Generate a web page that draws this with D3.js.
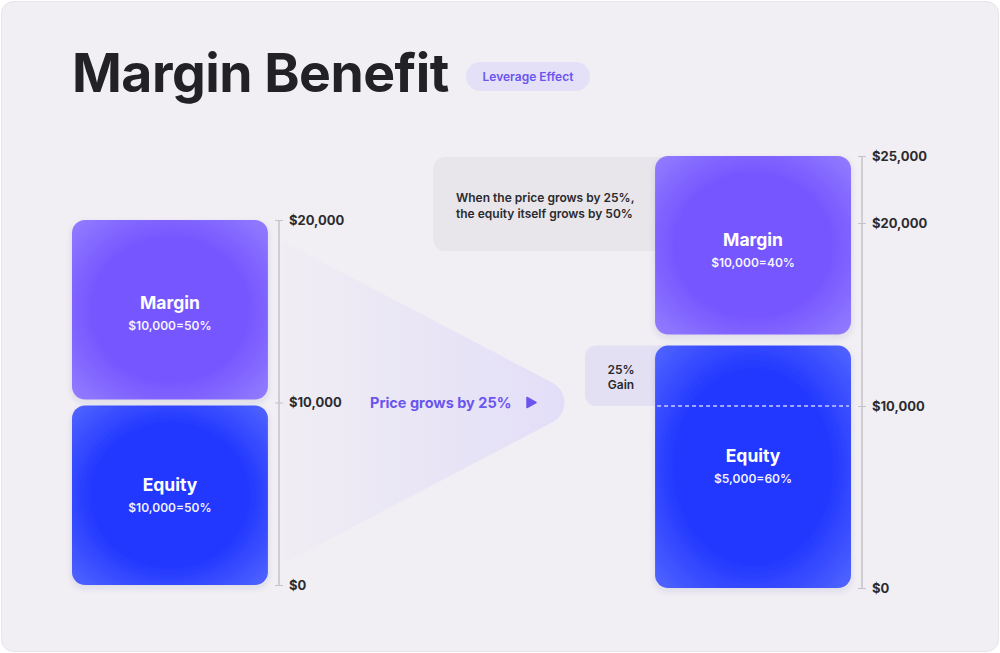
<!DOCTYPE html>
<html>
<head>
<meta charset="utf-8">
<script src="https://cdn.jsdelivr.net/npm/d3@7"></script>
<style>
  html, body { margin: 0; padding: 0; background: #ffffff; }
  svg { display: block; font-family: Inter, "Noto Sans", sans-serif; }
</style>
</head>
<body>
<div id="chart"></div>
<script>
// values
var panels = ["Before", "After"];
var segNames = ["Equity", "Margin"];
var leftValues = [10000, 10000];
var leftLabels = ["$10,000=50%", "$10,000=50%"];
var rightValues = [13600, 11400];
var rightLabels = ["$5,000=60%", "$10,000=40%"];
var leftTicks = [0, 10000, 20000];
var rightTicks = [0, 10000, 20000, 25000];
var gainFrom = 10000; // old equity line
var calloutLines = ["When the price grows by 25%,", "the equity itself grows by 50%"];
var gainLines = ["25%", "Gain"];

var width = 1000, height = 653;
var purple = "#7656ff", purpleEdge = "#9580ff";
var blue = "#2238ff", blueEdge = "#5568ff";

var svg = d3.select("#chart").append("svg")
    .attr("width", width)
    .attr("height", height);

var defs = svg.append("defs");

function radial(id, inner, outer) {
    var g = defs.append("radialGradient").attr("id", id)
        .attr("cx", "50%").attr("cy", "50%").attr("r", "72%");
    g.append("stop").attr("offset", "0%").attr("stop-color", inner);
    g.append("stop").attr("offset", "55%").attr("stop-color", inner);
    g.append("stop").attr("offset", "100%").attr("stop-color", outer);
}
radial("gradMargin", purple, purpleEdge);
radial("gradEquity", blue, blueEdge);

var arrowGrad = defs.append("linearGradient").attr("id", "gradArrow")
    .attr("x1", "0%").attr("x2", "100%").attr("y1", "0%").attr("y2", "0%");
arrowGrad.append("stop").attr("offset", "0%").attr("stop-color", "#e3def8").attr("stop-opacity", 0.1);
arrowGrad.append("stop").attr("offset", "100%").attr("stop-color", "#e3def8").attr("stop-opacity", 1);

var shadow = defs.append("filter").attr("id", "shadow")
    .attr("x", "-10%").attr("y", "-10%").attr("width", "120%").attr("height", "125%");
shadow.append("feDropShadow")
    .attr("dx", 0).attr("dy", 3).attr("stdDeviation", 3)
    .attr("flood-color", "#3a2d80").attr("flood-opacity", 0.12);

// card
svg.append("rect")
    .attr("x", 1.5).attr("y", 1.5)
    .attr("width", width - 3).attr("height", height - 3)
    .attr("rx", 12)
    .attr("fill", "#f1eff3")
    .attr("stroke", "#e6e4e8");

// title + pill
svg.append("text")
    .attr("x", 72).attr("y", 92)
    .attr("fill", "#222226")
    .attr("font-size", "53.5px")
    .attr("font-weight", 700)
    .style("letter-spacing", "-0.5px")
    .text("Margin Benefit");

svg.append("rect")
    .attr("x", 466).attr("y", 62)
    .attr("width", 124).attr("height", 29)
    .attr("rx", 14.5)
    .attr("fill", "#e4e0f8");

svg.append("text")
    .attr("x", 528).attr("y", 76.5)
    .attr("text-anchor", "middle")
    .attr("dominant-baseline", "central")
    .attr("fill", "#6a55ee")
    .attr("font-size", "12px")
    .attr("font-weight", 600)
    .text("Leverage Effect");

// scales
var x = d3.scaleBand()
    .domain(panels)
    .range([72, 851])
    .paddingInner(0.664)
    .paddingOuter(0);

var yL = d3.scaleLinear()
    .domain([0, 20000])
    .range([585, 220]);

// the picture's right axis is not evenly spaced at the top
var yR = d3.scaleLinear()
    .domain([0, 10000, 20000, 25000])
    .range([588, 406, 223, 156]);

// arrow between the two stacks, with a rounded tip
var tipY = yL(10000);
var baseX = 283, apexX = 590, r = 22, halfH = 161;
var theta = Math.atan2(halfH, apexX - baseX);
var cx = apexX - r / Math.sin(theta);
var tx = cx + r * Math.sin(theta), ty = r * Math.cos(theta);
var arrowPath = d3.path();
arrowPath.moveTo(baseX, tipY - halfH);
arrowPath.lineTo(tx, tipY - ty);
arrowPath.arc(cx, tipY, r, -Math.PI / 2 + theta, Math.PI / 2 - theta);
arrowPath.lineTo(baseX, tipY + halfH);
arrowPath.closePath();

svg.append("path")
    .attr("d", arrowPath.toString())
    .attr("fill", "url(#gradArrow)");

svg.append("text")
    .attr("x", 370).attr("y", tipY)
    .attr("dominant-baseline", "central")
    .attr("fill", "#6a55ee")
    .attr("font-size", "14.5px")
    .attr("font-weight", 700)
    .text("Price grows by 25%");

svg.append("path")
    .attr("d", "M527," + (tipY - 5) + " L536," + tipY + " L527," + (tipY + 5) + " Z")
    .attr("fill", "#6a55ee")
    .attr("stroke", "#6a55ee")
    .attr("stroke-linejoin", "round")
    .attr("stroke-width", 1.5);

// callout box (behind right margin bar)
var bx = x("After");
svg.append("rect")
    .attr("x", 433).attr("y", yR(25000) + 1)
    .attr("width", bx + 20 - 433).attr("height", 94)
    .attr("rx", 12)
    .attr("fill", "#e8e6ea");

svg.selectAll(".callout")
    .data(calloutLines)
    .enter().append("text")
    .attr("class", "callout")
    .attr("x", 456)
    .attr("y", function(d, i) { return 197 + i * 16.5; })
    .attr("dominant-baseline", "central")
    .attr("fill", "#2a2a2e")
    .attr("font-size", "12px")
    .attr("font-weight", 600)
    .text(function(d) { return d; });

// gain box (behind right equity bar)
var gainTop = yR(rightValues[0]) + 5.5;
svg.append("rect")
    .attr("x", 585).attr("y", gainTop)
    .attr("width", bx + 20 - 585).attr("height", yR(gainFrom) - gainTop)
    .attr("rx", 11)
    .attr("fill", "#e3e0f4");

svg.selectAll(".gain")
    .data(gainLines)
    .enter().append("text")
    .attr("class", "gain")
    .attr("x", 621)
    .attr("y", function(d, i) { return 369 + i * 15; })
    .attr("text-anchor", "middle")
    .attr("dominant-baseline", "central")
    .attr("fill", "#2a2a2e")
    .attr("font-size", "12px")
    .attr("font-weight", 600)
    .text(function(d) { return d; });

// stacks
function stack(values, labels, panel, y, half) {
    var rows = [], acc = 0;
    values.forEach(function(v, i) {
        rows.push({ name: segNames[i], label: labels[i], y0: acc, y1: acc + v });
        acc += v;
    });
    var total = acc;

    var g = svg.append("g");
    var seg = g.selectAll("g")
        .data(rows)
        .enter().append("g");

    seg.append("rect")
        .attr("x", x(panel))
        .attr("width", x.bandwidth())
        .attr("y", function(d) { return y(d.y1) + (d.y1 < total ? half : 0); })
        .attr("height", function(d) {
            var top = y(d.y1) + (d.y1 < total ? half : 0);
            var bot = y(d.y0) - (d.y0 > 0 ? half : 0);
            return bot - top;
        })
        .attr("rx", 13)
        .attr("fill", function(d) { return d.name == "Margin" ? "url(#gradMargin)" : "url(#gradEquity)"; })
        .attr("filter", "url(#shadow)");

    seg.append("text")
        .attr("x", x(panel) + x.bandwidth() / 2)
        .attr("y", function(d) { return (y(d.y0) + y(d.y1)) / 2 - 9; })
        .attr("text-anchor", "middle")
        .attr("dominant-baseline", "central")
        .attr("fill", "#ffffff")
        .attr("font-size", "17.5px")
        .attr("font-weight", 700)
        .text(function(d) { return d.name; });

    seg.append("text")
        .attr("x", x(panel) + x.bandwidth() / 2)
        .attr("y", function(d) { return (y(d.y0) + y(d.y1)) / 2 + 14; })
        .attr("text-anchor", "middle")
        .attr("dominant-baseline", "central")
        .attr("fill", "#ffffff")
        .attr("fill-opacity", 0.95)
        .attr("font-size", "12px")
        .attr("font-weight", 600)
        .text(function(d) { return d.label; });
    return g;
}

stack(leftValues, leftLabels, "Before", yL, 3);
stack(rightValues, rightLabels, "After", yR, 5.5);

// dashed line at the old equity level
svg.append("line")
    .attr("x1", bx + 2).attr("x2", bx + x.bandwidth() - 2)
    .attr("y1", yR(gainFrom)).attr("y2", yR(gainFrom))
    .attr("stroke", "#c9ccff")
    .attr("stroke-width", 1.5)
    .attr("stroke-dasharray", "4,3");

// axes
function axis(y, ticks, lineX) {
    svg.append("line")
        .attr("x1", lineX).attr("x2", lineX)
        .attr("y1", y(d3.max(ticks))).attr("y2", y(0))
        .attr("stroke", "#c4c2c8")
        .attr("stroke-width", 1.5);

    var ax = svg.append("g")
        .attr("transform", "translate(" + (lineX - 4) + ",0)")
        .call(d3.axisRight(y)
            .tickValues(ticks)
            .tickSize(8)
            .tickPadding(6)
            .tickFormat(function(d) { return "$" + d3.format(",")(d); }));
    ax.select(".domain").remove();
    ax.selectAll(".tick line").attr("stroke", "#c4c2c8").attr("stroke-width", 1);
    ax.selectAll(".tick text")
        .attr("fill", "#2b2b2f")
        .attr("font-family", "Inter, sans-serif")
        .attr("font-size", "13px")
        .attr("font-weight", 700);
}

axis(yL, leftTicks, 279);
axis(yR, rightTicks, 862);
</script>
</body>
</html>
